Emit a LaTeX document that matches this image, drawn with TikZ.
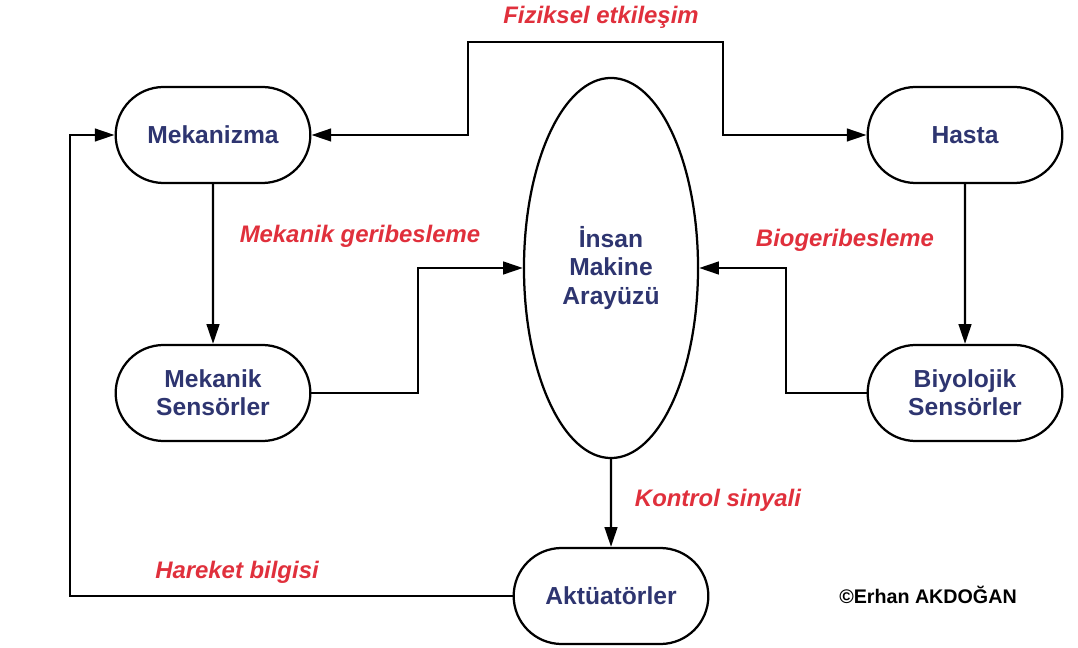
\documentclass[tikz,border=0pt]{standalone}
\usepackage{fontspec}
\setmainfont{Liberation Sans}
\usepackage{tikz}
\usetikzlibrary{shapes.geometric,shapes.misc,arrows.meta}
\definecolor{kutuyazi}{HTML}{2E3570}
\definecolor{etiketyazi}{HTML}{E0303C}
\tikzset{
	blok/.style={rounded rectangle, draw, line width=1.6pt, minimum width=5.1cm, minimum height=2.4cm, align=center, text=kutuyazi, font=\fontsize{17.5}{20}\selectfont\bfseries},
	etiket/.style={text=etiketyazi, font=\fontsize{17}{20}\selectfont\bfseries\itshape},
	hat/.style={line width=1.6pt, >={Triangle[length=14pt,width=9pt]}}
}

\begin{document}
\begin{tikzpicture}[x=0.025cm, y=-0.025cm]
		\useasboundingbox (0,0) rectangle (1078,648);
		% Nodes:
		\node[blok] (mek) at (213,135) {Mekanizma};
		\node[blok] (hasta) at (965,135) {Hasta};
		\node[blok] (meksen) at (213,393) {Mekanik\\Sensörler};
		\node[blok] (biyosen) at (965,393) {Biyolojik\\Sensörler};
		\node[blok] (akt) at (611,596) {Aktüatörler};
		\node[ellipse, draw, line width=1.6pt, minimum width=4.35cm, minimum height=9.5cm, inner sep=0pt, align=center, text=kutuyazi, font=\fontsize{17.5}{20}\selectfont\bfseries] (ima) at (611,268) {İnsan\\Makine\\Arayüzü};
		% Labels:
		\node[etiket] (fiz) at (601,17) {Fiziksel etkileşim};
		\node[etiket] (mgb) at (360,236) {Mekanik geribesleme};
		\node[etiket] (bgb) at (845,240) {Biogeribesleme};
		\node[etiket] (kon) at (718,500) {Kontrol sinyali};
		\node[etiket] (har) at (237,572) {Hareket bilgisi};
		\node[font=\fontsize{14}{16}\selectfont\bfseries] (telif) at (928,595) {©Erhan AKDOĞAN};
		% Wires:
		\draw[hat, <->] (mek.east) -| (468,42) -| (723,135) -- (hasta.west);
		\draw[hat, ->] (mek) -- (meksen);
		\draw[hat, ->] (hasta) -- (biyosen);
		\draw[hat, ->] (meksen.east) -| (418,268) -- (ima.west);
		\draw[hat, ->] (biyosen.west) -| (786,268) -- (ima.east);
		\draw[hat, ->] (ima) -- (akt);
		\draw[hat, ->] (akt.west) -| (70,135) -- (mek.west);
	\end{tikzpicture}
\end{document}
